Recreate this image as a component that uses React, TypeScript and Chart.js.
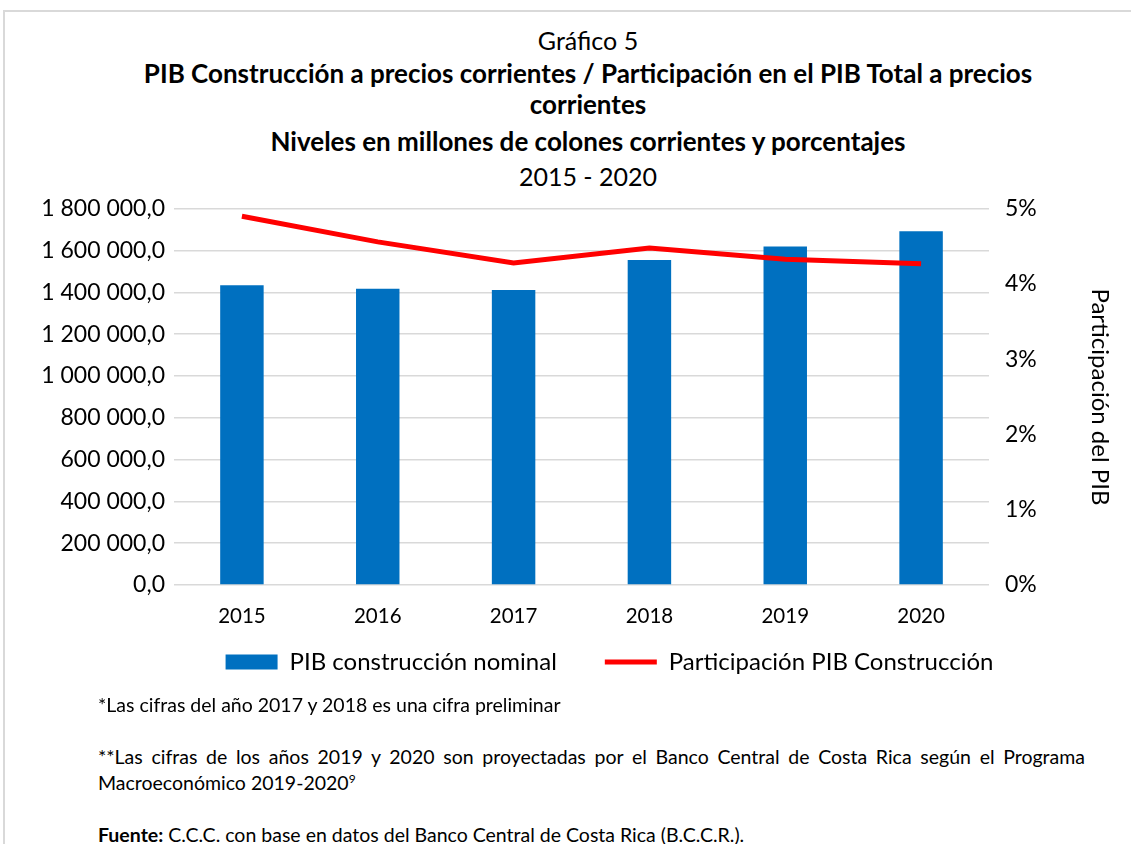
import React, { useEffect, useRef } from "react";
import { Chart, registerables } from "chart.js";

Chart.register(...registerables);

const years = ["2015", "2016", "2017", "2018", "2019", "2020"];
const pibNominal = [1434000, 1417000, 1412000, 1555000, 1620000, 1693000];
const participacion = [4.9, 4.56, 4.28, 4.48, 4.33, 4.27];
const leftTickLabels = [
  "0,0",
  "200 000,0",
  "400 000,0",
  "600 000,0",
  "800 000,0",
  "1 000 000,0",
  "1 200 000,0",
  "1 400 000,0",
  "1 600 000,0",
  "1 800 000,0",
];
const rightTickLabels = ["0%", "1%", "2%", "3%", "4%", "5%"];
const seriesNames = ["PIB construcción nominal", "Participación PIB Construcción"];
const rightAxisTitle = "Participación del PIB";

const FONT = "Lato, 'Open Sans', sans-serif";

const legendShift = {
  id: "legendShift",
  afterLayout(chart: any) {
    const l = chart.legend;
    if (l) {
      l.left += 44;
      l.right += 44;
      l.top -= 25;
      l.bottom -= 25;
    }
  },
};

function ChartCanvas() {
  const ref = useRef<HTMLCanvasElement | null>(null);
  useEffect(() => {
    if (!ref.current) return;
    const chart = new Chart(ref.current, {
      type: "bar",
      data: {
        labels: years,
        datasets: [
          {
            type: "line",
            label: seriesNames[1],
            data: participacion,
            yAxisID: "y1",
            borderColor: "#FF0000",
            backgroundColor: "#FF0000",
            borderWidth: 5,
            pointRadius: 0,
            tension: 0,
            order: 0,
          } as any,
          {
            type: "bar",
            label: seriesNames[0],
            data: pibNominal,
            yAxisID: "y",
            backgroundColor: "#0070C0",
            borderWidth: 0,
            barPercentage: 0.32,
            categoryPercentage: 1,
            order: 1,
          },
        ],
      },
      plugins: [legendShift],
      options: {
        animation: false,
        responsive: false,
        maintainAspectRatio: false,
        layout: { padding: 0 },
        plugins: {
          title: { display: false },
          tooltip: { enabled: false },
          legend: {
            position: "bottom",
            labels: {
              color: "#000",
              font: { family: FONT, size: 24 },
              usePointStyle: true,
              pointStyleWidth: 52,
              boxHeight: 15,
              padding: 48,
              generateLabels: (chart: any) => {
                const ds = chart.data.datasets;
                return [
                  {
                    text: ds[1].label,
                    fillStyle: "#0070C0",
                    strokeStyle: "#0070C0",
                    lineWidth: 0,
                    pointStyle: "rect",
                    datasetIndex: 1,
                    fontColor: "#000",
                  },
                  {
                    text: ds[0].label,
                    fillStyle: "#FF0000",
                    strokeStyle: "#FF0000",
                    lineWidth: 5,
                    pointStyle: "line",
                    datasetIndex: 0,
                    fontColor: "#000",
                  },
                ];
              },
            },
          },
        },
        scales: {
          x: {
            grid: { display: false, drawTicks: false },
            border: { display: false },
            ticks: {
              color: "#000",
              font: { family: FONT, size: 20.5 },
              padding: 19,
            },
            afterFit: (s: any) => {
              s.height = 42;
            },
          },
          y: {
            position: "left",
            min: 0,
            max: 1800000,
            grid: { color: "#d9d9d9", lineWidth: 1.5, drawTicks: false },
            border: { display: false },
            ticks: {
              stepSize: 200000,
              color: "#000",
              font: { family: FONT, size: 23 },
              padding: 9,
              callback: (_v: any, i: number) => leftTickLabels[i],
            },
            afterFit: (s: any) => {
              s.width = 174;
            },
          },
          y1: {
            position: "right",
            min: 0,
            max: 5,
            grid: { display: false, drawTicks: false },
            border: { display: false },
            ticks: {
              stepSize: 1,
              color: "#000",
              font: { family: FONT, size: 23 },
              padding: 16,
              callback: (_v: any, i: number) => rightTickLabels[i],
            },
            title: {
              display: true,
              text: rightAxisTitle,
              color: "#000",
              font: { family: FONT, size: 24 },
              padding: { top: 17, bottom: 0 },
            },
            afterFit: (s: any) => {
              s.width = 142;
            },
          },
        },
      },
    });
    return () => chart.destroy();
  }, []);
  return (
    <canvas
      ref={ref}
      width={1131}
      height={530}
      style={{ position: "absolute", left: 0, top: 179, width: 1131, height: 530 }}
    />
  );
}

const lineStyle = (top: number, size: number, bold: boolean): React.CSSProperties => ({
  position: "absolute",
  left: 45,
  width: 1086,
  top: top - 17,
  height: 34,
  lineHeight: "34px",
  textAlign: "center",
  fontSize: size,
  fontWeight: bold ? 700 : 400,
  whiteSpace: "nowrap",
});

const noteStyle = (top: number): React.CSSProperties => ({
  position: "absolute",
  left: 98,
  top: top - 12,
  fontSize: 19.5,
  lineHeight: "24px",
  whiteSpace: "nowrap",
});

export default function App() {
  return (
    <div
      style={{
        position: "absolute",
        left: 0,
        top: 0,
        width: 1131,
        height: 844,
        overflow: "hidden",
        background: "#fff",
        fontFamily: FONT,
        color: "#000",
      }}
    >
      <div
        style={{
          position: "absolute",
          left: 3,
          top: 10,
          width: 1200,
          height: 900,
          borderTop: "2px solid #d9d9d9",
          borderLeft: "2px solid #d9d9d9",
        }}
      />
      <div style={lineStyle(40, 25, false)}>Gráfico 5</div>
      <div style={lineStyle(73, 26, true)}>
        PIB Construcción a precios corrientes / Participación en el PIB Total a precios
      </div>
      <div style={lineStyle(104, 26, true)}>corrientes</div>
      <div style={lineStyle(141, 26, true)}>Niveles en millones de colones corrientes y porcentajes</div>
      <div style={lineStyle(176, 25, false)}>2015 - 2020</div>
      <ChartCanvas />
      <div style={noteStyle(705)}>*Las cifras del año 2017 y 2018 es una cifra preliminar</div>
      <div
        style={{
          ...noteStyle(757),
          width: 987,
          textAlign: "justify",
          textAlignLast: "justify",
        }}
      >
        **Las cifras de los años 2019 y 2020 son proyectadas por el Banco Central de Costa Rica según el Programa
      </div>
      <div style={noteStyle(783)}>
        Macroeconómico 2019-2020<sup style={{ fontSize: 12, verticalAlign: "7px", lineHeight: 0 }}>9</sup>
      </div>
      <div style={noteStyle(835)}>
        <b>Fuente:</b> C.C.C. con base en datos del Banco Central de Costa Rica (B.C.C.R.).
      </div>
    </div>
  );
}
